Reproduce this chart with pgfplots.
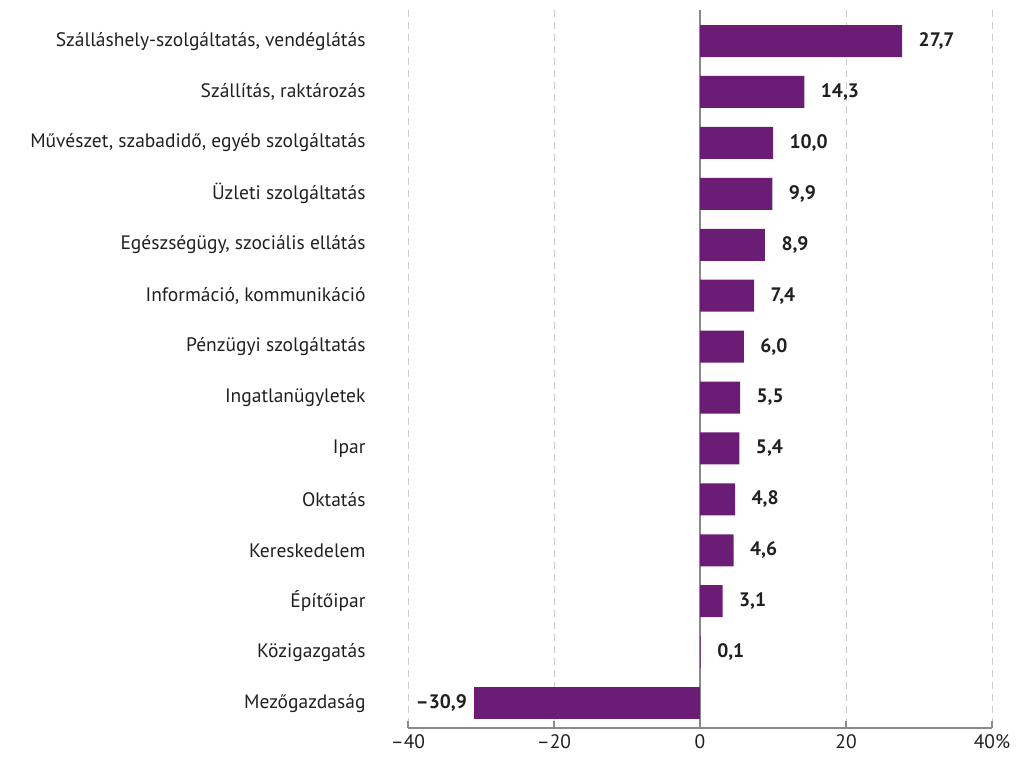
\documentclass[border=0pt]{standalone}
\usepackage{fontspec}
\setmainfont{PT Sans}
\usepackage{pgfplots}
\pgfplotsset{compat=1.18}
\definecolor{barpurple}{HTML}{6B1C74}
\definecolor{axisgray}{HTML}{8A8A8A}
\definecolor{gridgray}{HTML}{CCCCCC}
\definecolor{txt}{HTML}{231F20}

\begin{document}
\begin{tikzpicture}
  \path[use as bounding box] (0,0) rectangle (1022pt,764pt);
  \begin{axis}[
    at={(408pt,36pt)}, anchor=south west,
    scale only axis,
    width=584pt, height=718pt,
    xmin=-40, xmax=40,
    ymin=-0.61, ymax=13.49,
    y dir=reverse,
    axis x line*=bottom,
    axis y line*=left,
    y axis line style={draw=none},
    x axis line style={axisgray, line width=1.6pt},
    xtick={-40,-20,20,40},
    xticklabels={–40,–20,20,40\%},
    extra x ticks={0},
    extra x tick labels={0},
    extra x tick style={grid=major, major grid style={solid, axisgray, line width=2pt}},
    tick align=inside,
    major tick length=7pt,
    major x tick style={axisgray, line width=1.4pt},
    xmajorgrids,
    major grid style={dashed, gridgray, line width=1pt, dash pattern=on 7pt off 5pt},
    ytick={0,...,13},
    major y tick style={draw=none},
    yticklabels={{Szálláshely-szolgáltatás, vendéglátás},{Szállítás, raktározás},{Művészet, szabadidő, egyéb szolgáltatás},{Üzleti szolgáltatás},{Egészségügy, szociális ellátás},{Információ, kommunikáció},{Pénzügyi szolgáltatás},{Ingatlanügyletek},{Ipar},{Oktatás},{Kereskedelem},{Építőipar},{Közigazgatás},{Mezőgazdaság}},
    yticklabel style={anchor=east, xshift=-32pt},
    ticklabel style={font=\fontsize{19.5}{22}\selectfont, text=txt},
    xticklabel style={yshift=-3pt},
    xbar, bar width=32pt, bar shift=0pt,
    point meta=explicit symbolic,
    nodes near coords,
    every node near coord/.append style={font=\fontsize{19.5}{22}\selectfont\bfseries, text=txt},
  ]
    \addplot[fill=barpurple, draw=none,
      every node near coord/.append style={anchor=west, xshift=13pt}]
      coordinates {
        (27.7,0) [27,7]
        (14.3,1) [14,3]
        (10.0,2) [10,0]
        (9.9,3) [9,9]
        (8.9,4) [8,9]
        (7.4,5) [7,4]
        (6.0,6) [6,0]
        (5.5,7) [5,5]
        (5.4,8) [5,4]
        (4.8,9) [4,8]
        (4.6,10) [4,6]
        (3.1,11) [3,1]
        (0.1,12) [0,1]
      };
    \addplot[fill=barpurple, draw=none,
      every node near coord/.append style={anchor=east, xshift=-4pt}]
      coordinates {
        (-30.9,13) [–30,9]
      };
  \end{axis}
\end{tikzpicture}
\end{document}
